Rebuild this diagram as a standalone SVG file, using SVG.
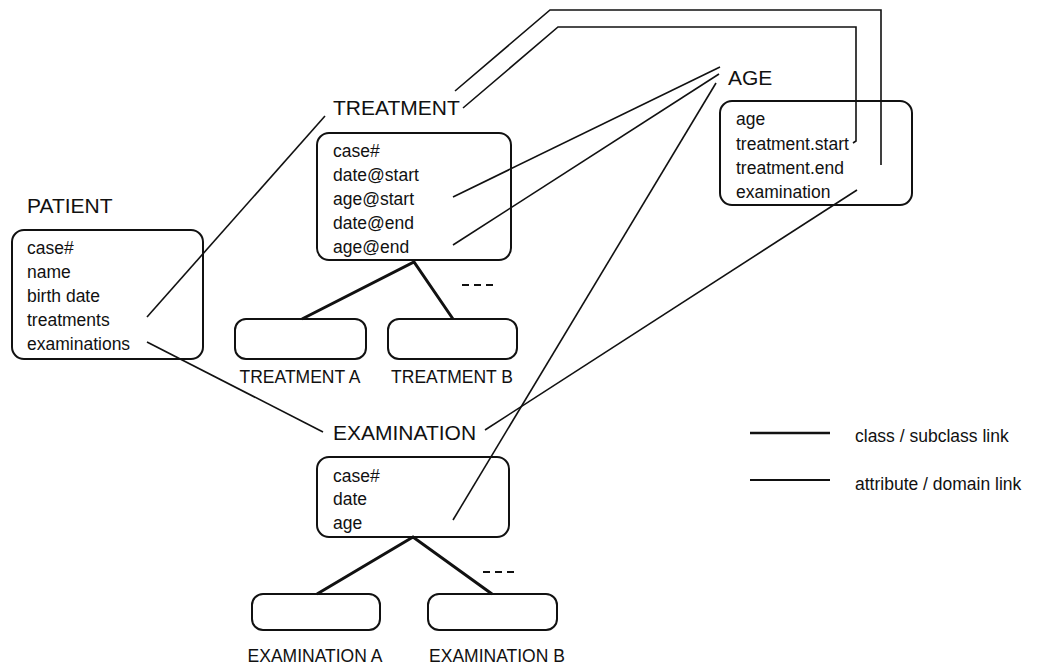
<svg xmlns="http://www.w3.org/2000/svg" width="1037" height="668" viewBox="0 0 1037 668">
<style>
text{font-family:"Liberation Sans",Arial,Helvetica,sans-serif;fill:#111}
.lbl{font-size:21px}
.row{font-size:17.5px}
.box{fill:none;stroke:#111;stroke-width:2}
.attr{fill:none;stroke:#111;stroke-width:1.6}
.cls{fill:none;stroke:#111;stroke-width:3}
.dash{fill:none;stroke:#111;stroke-width:2;stroke-dasharray:7,5}
</style>
<rect width="1037" height="668" fill="#fff"/>
<g id="connectors">
<line class="attr" x1="147" y1="317" x2="325" y2="116"/>
<line class="attr" x1="147" y1="342" x2="323" y2="432"/>
<line class="attr" x1="453" y1="197" x2="720" y2="67"/>
<line class="attr" x1="453" y1="245" x2="719" y2="74"/>
<line class="attr" x1="453" y1="520" x2="716" y2="83"/>
<line class="attr" x1="485" y1="430" x2="857" y2="190"/>
<polyline class="attr" points="455,91 550,10 881,10 881,165"/>
<polyline class="attr" points="463,108 558,27 856,27 856,141 853,143"/>
<polyline class="cls" points="302,319 414,262 453,319"/>
<polyline class="cls" points="317,594 413,537 492,594"/>
<line class="dash" x1="462" y1="285" x2="495" y2="285"/>
<line class="dash" x1="483" y1="572" x2="518" y2="572"/>
</g>
<g id="patient">
<text class="lbl" x="27" y="213">PATIENT</text>
<rect class="box" x="12" y="230" width="191" height="129" rx="12"/>
<text class="row" x="27" y="254">case#</text>
<text class="row" x="27" y="278">name</text>
<text class="row" x="27" y="302">birth date</text>
<text class="row" x="27" y="326">treatments</text>
<text class="row" x="27" y="350">examinations</text>
</g>
<g id="treatment">
<text class="lbl" x="333" y="115">TREATMENT</text>
<rect class="box" x="317" y="133" width="194" height="127" rx="12"/>
<text class="row" x="333" y="157">case#</text>
<text class="row" x="333" y="181">date@start</text>
<text class="row" x="333" y="205">age@start</text>
<text class="row" x="333" y="229">date@end</text>
<text class="row" x="333" y="253">age@end</text>
</g>
<g id="treatment-a">
<rect class="box" x="235" y="319" width="131" height="40" rx="11"/>
<text class="row" x="300" y="383" text-anchor="middle">TREATMENT A</text>
</g>
<g id="treatment-b">
<rect class="box" x="388" y="319" width="129" height="40" rx="11"/>
<text class="row" x="452" y="383" text-anchor="middle">TREATMENT B</text>
</g>
<g id="age">
<text class="lbl" x="728" y="85">AGE</text>
<rect class="box" x="720" y="101" width="192" height="104" rx="12"/>
<text class="row" x="736" y="125">age</text>
<text class="row" x="736" y="150">treatment.start</text>
<text class="row" x="736" y="174">treatment.end</text>
<text class="row" x="736" y="198">examination</text>
</g>
<g id="examination">
<text class="lbl" x="333" y="440">EXAMINATION</text>
<rect class="box" x="317" y="457" width="192" height="80" rx="12"/>
<text class="row" x="333" y="482">case#</text>
<text class="row" x="333" y="505">date</text>
<text class="row" x="333" y="529">age</text>
</g>
<g id="examination-a">
<rect class="box" x="252" y="594" width="128" height="36" rx="11"/>
<text class="row" x="315" y="662" text-anchor="middle">EXAMINATION A</text>
</g>
<g id="examination-b">
<rect class="box" x="428" y="594" width="129" height="36" rx="11"/>
<text class="row" x="497" y="662" text-anchor="middle">EXAMINATION B</text>
</g>
<g id="legend">
<line class="cls" x1="750" y1="433" x2="830" y2="433" style="stroke-width:2.6"/>
<text class="row" x="855" y="442">class / subclass link</text>
<line class="attr" x1="750" y1="480" x2="830" y2="480" style="stroke-width:2"/>
<text class="row" x="855" y="490">attribute / domain link</text>
</g>
</svg>
